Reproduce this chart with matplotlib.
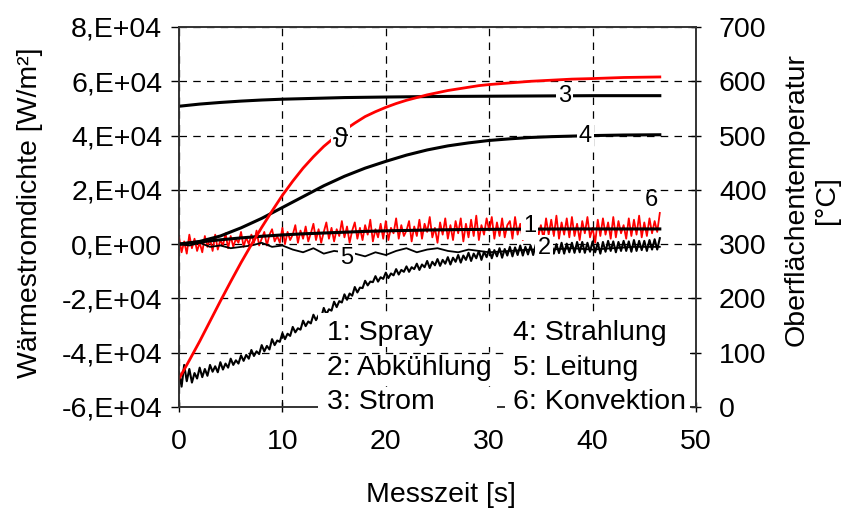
import numpy as np
import matplotlib
matplotlib.use("Agg")
import matplotlib.pyplot as plt
from matplotlib.ticker import FuncFormatter
from matplotlib.patches import Rectangle

plt.rcParams['font.family'] = ['Liberation Sans', 'DejaVu Sans']

# --- data (heat flux in 1e4 W/m², temperature in °C) ---
# smooth curves
t_smooth3 = [0, 2, 4, 6, 8, 10, 13, 16, 20, 25, 30, 35, 40, 46.5]
strom = [5.08, 5.16, 5.22, 5.27, 5.31, 5.34, 5.37, 5.40, 5.42, 5.44, 5.45, 5.46, 5.47, 5.47]

t_smooth4 = [0, 2, 4, 6, 8, 10, 12, 14, 16, 18, 20, 22, 24, 26, 28, 30, 32, 34, 36, 38, 40, 43, 46.5]
strahlung = [0.0, 0.1, 0.3, 0.6, 0.95, 1.35, 1.75, 2.15, 2.5, 2.8, 3.05, 3.28, 3.47, 3.62,
             3.73, 3.82, 3.88, 3.93, 3.96, 3.98, 4.0, 4.02, 4.03]

t_smooth1 = [0, 2, 4, 6, 8, 10, 12, 14, 16, 18, 20, 24, 28, 32, 38, 46.5]
spray = [0.0, 0.08, 0.16, 0.23, 0.29, 0.34, 0.38, 0.41, 0.44, 0.47, 0.49, 0.52, 0.54, 0.55, 0.56, 0.56]

t_temp = [0, 1, 2, 3, 4, 5, 6, 7, 8, 9, 10, 11, 12, 13, 14, 15, 16, 17, 18, 19, 20,
          21, 22, 23, 24, 25, 26, 27, 28, 29, 30, 32, 34, 36, 38, 40, 43, 46.5]
temperatur = [52, 86, 121, 158, 195, 231, 266, 299, 331, 361, 390, 416, 440, 461, 480, 496,
              510, 523, 535, 544, 552, 559, 565, 570, 575, 579, 583, 586, 589, 592, 594,
              597, 600, 602, 604, 605, 607, 608]

# noisy curves, sampled every 0.25 s
t_noisy = np.linspace(0, 46.5, 187)
abkuehlung = [
    -4.70, -5.25, -4.45, -5.05, -4.60, -5.10, -4.75, -4.95, -4.55, -4.90, -4.60, -4.85,
    -4.45, -4.70, -4.50, -4.72, -4.35, -4.62, -4.40, -4.55, -4.22, -4.45, -4.28, -4.40,
    -4.10, -4.30, -4.08, -4.22, -3.90, -4.12, -3.95, -4.05, -3.72, -3.95, -3.75, -3.88,
    -3.50, -3.72, -3.55, -3.60, -3.28, -3.50, -3.30, -3.38, -3.05, -3.25, -3.10, -3.15,
    -2.82, -3.02, -2.85, -2.92, -2.60, -2.80, -2.62, -2.70, -2.35, -2.58, -2.40, -2.45,
    -2.12, -2.32, -2.10, -2.15, -1.85, -2.05, -1.82, -1.90, -1.58, -1.78, -1.60, -1.62,
    -1.35, -1.52, -1.38, -1.40, -1.18, -1.38, -1.22, -1.28, -1.05, -1.25, -1.08, -1.15,
    -0.92, -1.12, -0.95, -1.02, -0.82, -1.02, -0.85, -0.92, -0.72, -0.95, -0.75, -0.85,
    -0.62, -0.88, -0.65, -0.78, -0.55, -0.80, -0.58, -0.72, -0.48, -0.75, -0.50, -0.65,
    -0.40, -0.68, -0.42, -0.58, -0.32, -0.62, -0.35, -0.52, -0.25, -0.58, -0.28, -0.48,
    -0.18, -0.52, -0.22, -0.45, -0.15, -0.50, -0.18, -0.42, -0.10, -0.45, -0.12, -0.40,
    -0.05, -0.42, -0.10, -0.38, -0.05, -0.40, -0.02, -0.35, 0.00, -0.38, -0.05, -0.32,
    0.02, -0.35, 0.00, -0.33, 0.05, -0.35, 0.02, -0.30, 0.05, -0.32, 0.08, -0.30,
    0.08, -0.32, 0.05, -0.28, 0.10, -0.30, 0.05, -0.35, 0.08, -0.28, 0.12, -0.25,
    0.10, -0.30, 0.08, -0.25, 0.12, -0.25, 0.10, -0.28, 0.15, -0.25, 0.12, -0.22,
    0.12, -0.25, 0.15, -0.20, 0.18, -0.20, 0.22]
konvektion = [
    0.25, -0.30, 0.10, -0.35, 0.35, -0.15, 0.20, -0.25, 0.05, -0.30, 0.30, -0.10,
    0.20, -0.25, 0.35, -0.20, 0.15, -0.05, 0.40, -0.15, 0.30, -0.10, 0.20, 0.05,
    0.45, -0.10, 0.25, 0.00, 0.35, 0.05, 0.50, -0.05, 0.20, 0.45, -0.05, 0.35,
    0.55, 0.10, 0.30, 0.05, 0.60, 0.00, 0.45, 0.15, 0.35, 0.70, 0.05, 0.50,
    0.20, 0.65, 0.10, 0.40, 0.75, 0.15, 0.55, 0.05, 0.45, 0.80, 0.20, 0.60,
    0.10, 0.55, 0.30, 0.85, 0.25, 0.65, 0.05, 0.50, 0.80, 0.20, 0.60, 0.15,
    0.70, 0.35, 0.90, 0.10, 0.55, 0.25, 0.75, 0.20, 0.85, 0.15, 0.60, 0.40,
    0.95, 0.20, 0.70, 0.30, 0.50, 0.85, 0.10, 0.65, 0.30, 0.90, 0.20, 0.75,
    0.45, 1.00, 0.25, 0.60, 0.05, 0.80, 0.35, 0.95, 0.20, 0.70, 0.15, 0.85,
    0.40, 0.95, 0.10, 0.75, 0.25, 0.90, 0.30, 1.05, 0.15, 0.70, 0.35, 0.95,
    0.50, 1.00, 0.20, 0.80, 0.30, 0.95, 0.25, 0.70, 0.85, 0.20, 1.00, 0.35,
    0.75, 0.15, 0.90, 0.40, 0.95, 0.25, 0.80, 0.30, 0.70, 0.20, 0.95, 0.35,
    0.90, 0.30, 1.05, 0.20, 0.80, 0.35, 0.95, 0.25, 1.00, 0.30, 0.75, 0.15,
    0.85, 0.40, 1.00, 0.25, 0.60, 0.05, 0.90, 0.30, 0.95, 0.35, 0.80, 0.20,
    1.00, 0.25, 0.85, 0.40, 0.70, 0.20, 0.95, 0.30, 0.90, 0.35, 1.05, 0.25,
    0.80, 0.30, 0.95, 0.40, 0.85, 0.45, 1.15]

t_leitung = [0, 1, 2, 3, 4, 5, 6, 7, 8, 9, 10, 11, 12, 13, 14, 15, 16, 17, 18, 19, 20,
             21, 22, 23, 24, 25, 26, 27, 28, 29, 30, 32, 34, 36, 38, 40, 42, 44, 46.5]
leitung = [0.0, -0.05, 0.05, -0.10, -0.05, -0.15, -0.10, -0.05, 0.05, -0.10, -0.05,
           -0.20, -0.30, -0.15, -0.35, -0.25, -0.30, -0.35, -0.45, -0.30, -0.40,
           -0.25, -0.15, -0.30, -0.20, -0.15, -0.25, -0.30, -0.20, -0.25, -0.30,
           -0.25, -0.20, -0.20, -0.15, -0.20, -0.15, -0.10, -0.10]

y_ticks = [-6, -4, -2, 0, 2, 4, 6, 8]
x_ticks = [0, 10, 20, 30, 40, 50]
temp_ticks = [0, 100, 200, 300, 400, 500, 600, 700]

legend_left = ['1: Spray', '2: Abkühlung', '3: Strom']
legend_right = ['4: Strahlung', '5: Leitung', '6: Konvektion']

# --- figure ---
fig = plt.figure(figsize=(8.45, 5.12), dpi=100)
ax1 = fig.add_axes([179 / 845, 105 / 512, 517 / 845, 380 / 512])
ax2 = ax1.twinx()

fs = 20.5
e4 = 1e4
ax1.plot(t_noisy, np.array(konvektion) * e4, color='red', lw=1.3, zorder=3)
ax1.plot(t_leitung, np.array(leitung) * e4, color='black', lw=1.3, zorder=3)
ax1.plot(t_noisy, np.array(abkuehlung) * e4, color='black', lw=1.5, zorder=3)
ax1.plot(t_smooth1, np.array(spray) * e4, color='black', lw=2.2, zorder=4)
ax1.plot(t_smooth3, np.array(strom) * e4, color='black', lw=2.2, zorder=4)
ax1.plot(t_smooth4, np.array(strahlung) * e4, color='black', lw=2.2, zorder=4)
ax2.plot(t_temp, temperatur, color='red', lw=2.0)

ax1.set_xlim(0, 50)
ax1.set_ylim(-6e4, 8e4)
ax2.set_ylim(0, 700)
ax1.set_xticks(x_ticks)
ax1.set_yticks([v * e4 for v in y_ticks])
ax2.set_yticks(temp_ticks)


def sci_fmt(v, pos):
    if v == 0:
        return '0,E+00'
    return '%d,E+04' % round(v / 1e4)


ax1.yaxis.set_major_formatter(FuncFormatter(sci_fmt))
ax1.grid(True, color='black', ls=(0, (6, 5)), lw=0.9)
ax1.set_axisbelow(True)

ax1.tick_params(axis='y', direction='out', length=6, width=1, pad=6, labelsize=fs)
ax1.tick_params(axis='x', direction='inout', length=7, width=1, pad=12, labelsize=fs)
ax2.tick_params(axis='y', direction='inout', length=7, width=1, pad=13, labelsize=fs)
for ax in (ax1, ax2):
    for s in ax.spines.values():
        s.set_color('#333333')
        s.set_linewidth(1.2)

# curve labels with white background
lab = dict(transform=ax1.transData, ha='center', va='center', fontsize=17, zorder=10,
           bbox=dict(fc='white', ec='none', pad=1.5))
ax2.text(37.3, 5.45e4, '3', **lab)
ax2.text(39.3, 4.0e4, '4', **lab)
ax2.text(33.9, 0.65e4, '1', **lab)
ax2.text(35.3, -0.15e4, '2', **lab)
ax2.text(16.2, -0.5e4, '5', **lab)
ax2.text(45.7, 1.62e4, '6', transform=ax1.transData, ha='center', va='center',
         fontsize=17, zorder=10)
ax2.text(15.6, 3.85e4, 'ϑ', **dict(lab, fontsize=20))

# legend boxes (white) and texts
row_y = [-3.28e4, -4.55e4, -5.82e4]
row_box = [(-3.80e4, -2.54e4), (-5.05e4, -4.09e4), (-6.26e4, -5.27e4)]
for (y0, y1) in row_box:
    ax2.add_patch(Rectangle((13.4, y0), 30.75 - 13.4, y1 - y0, transform=ax1.transData,
                            fc='white', ec='none', zorder=9, clip_on=False))
ax2.add_patch(Rectangle((31.5, -6.26e4), 49.4 - 31.5, 6.26e4 - 2.54e4, transform=ax1.transData,
                        fc='white', ec='none', zorder=9, clip_on=False))
for name, y in zip(legend_left, row_y):
    ax2.text(14.3, y, name, transform=ax1.transData, ha='left', va='center',
             fontsize=fs, zorder=10, clip_on=False)
for name, y in zip(legend_right, row_y):
    ax2.text(32.3, y, name, transform=ax1.transData, ha='left', va='center',
             fontsize=fs, zorder=10, clip_on=False)

fig.text(30 / 845, 1 - 213 / 512, 'Wärmestromdichte [W/m²]', rotation=90,
         ha='center', va='center', fontsize=fs)
fig.text(812 / 845, 1 - 200 / 512, 'Oberflächentemperatur\n[°C]', rotation=90,
         ha='center', va='center', fontsize=fs, multialignment='center')
fig.text(441 / 845, 1 - 495 / 512, 'Messzeit [s]', ha='center', va='center', fontsize=fs)

fig.savefig('out.png', dpi=100)
